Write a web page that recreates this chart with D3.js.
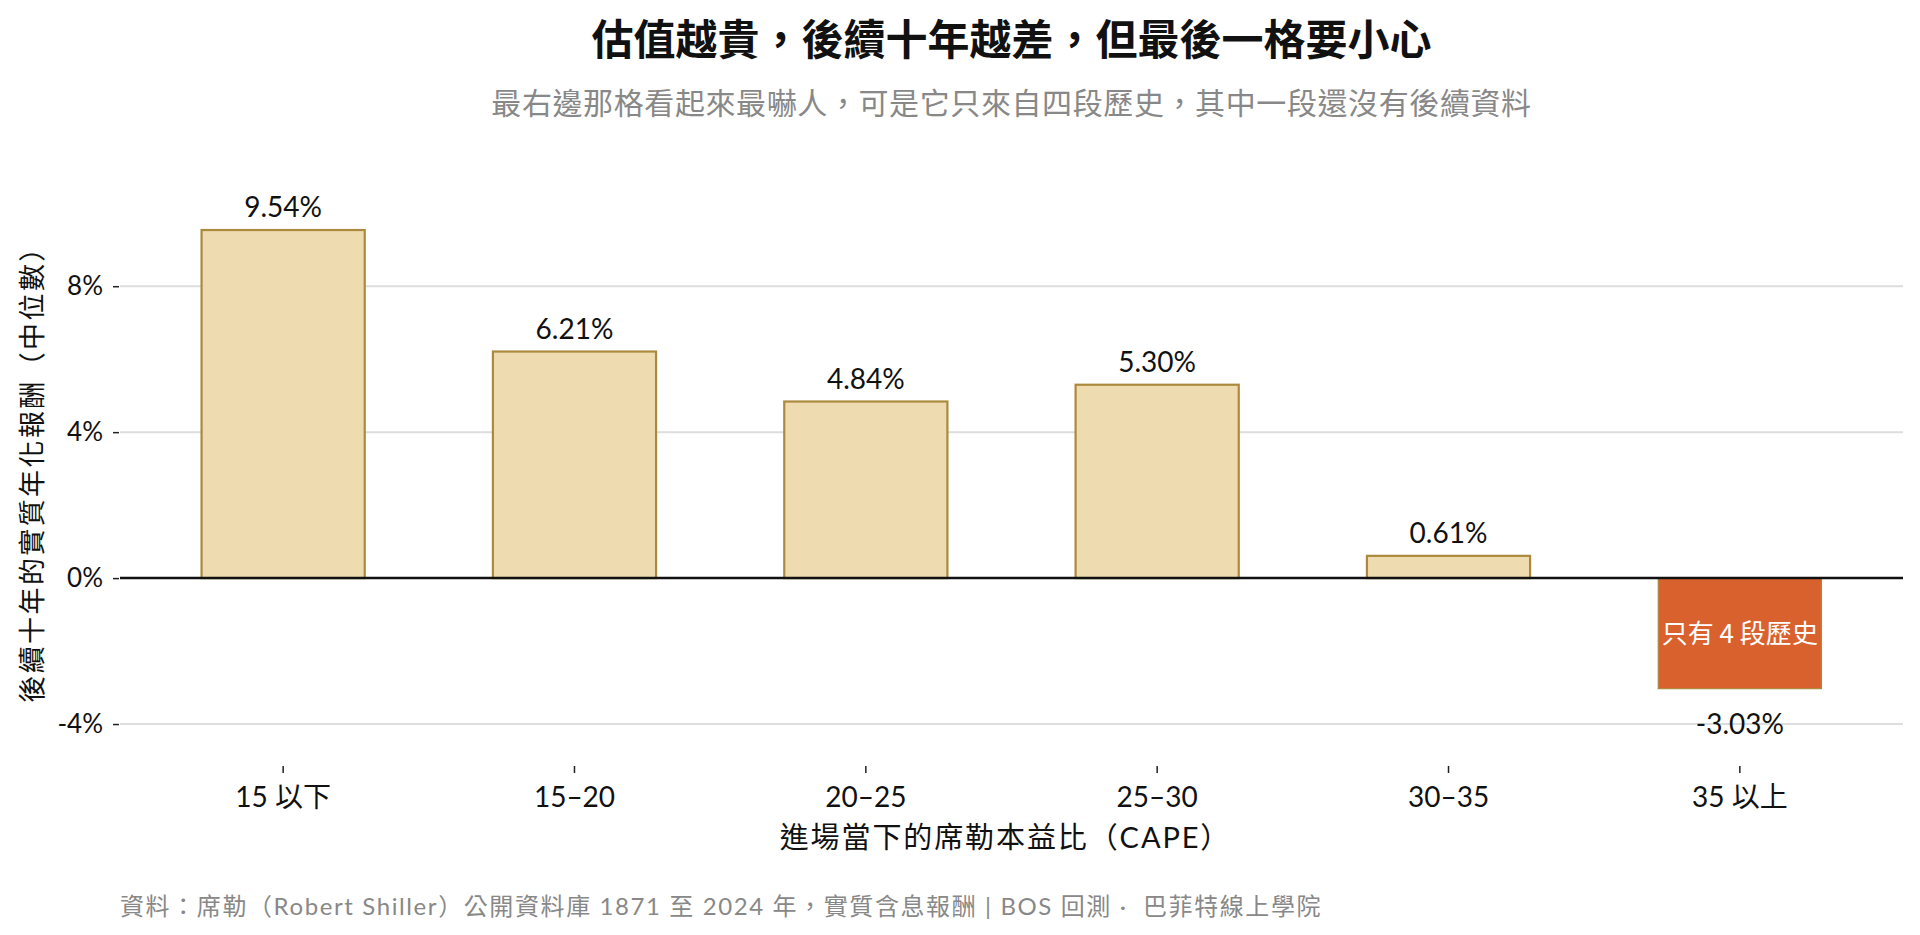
<!DOCTYPE html>
<html>
<head>
<meta charset="utf-8">
<script src="https://cdn.jsdelivr.net/npm/d3@7"></script>
<style>
  html, body { margin: 0; padding: 0; background: #fff; }
  svg { display: block; }
  text { font-family: "Lato", "Noto Sans CJK TC", sans-serif; }
</style>
</head>
<body>
<svg id="chart" width="1920" height="935"></svg>
<script>
// data
var categories = ["15 以下", "15–20", "20–25", "25–30", "30–35", "35 以上"];
var medianReturns = [9.54, 6.21, 4.84, 5.30, 0.61, -3.03];
var yTicks = [-4, 0, 4, 8];

var titleText = "估值越貴，後續十年越差，但最後一格要小心";
var subtitleText = "最右邊那格看起來最嚇人，可是它只來自四段歷史，其中一段還沒有後續資料";
var xTitle = "進場當下的席勒本益比（CAPE）";
var yTitle = "後續十年的實質年化報酬（中位數）";
var noteText = "只有 4 段歷史";
var sourceText = "資料：席勒（Robert Shiller）公開資料庫 1871 至 2024 年，實質含息報酬 | BOS 回測 ·  巴菲特線上學院";

var svg = d3.select("#chart");

var plotL = 120, plotR = 1903, plotT = 195, plotB = 766;
var midX = (plotL + plotR) / 2;

var x = d3.scaleBand()
  .domain(categories)
  .range([plotL, plotR])
  .paddingInner(0.44)
  .paddingOuter(0.28);

var y = d3.scaleLinear()
  .domain([-5.15, 10.5])
  .range([plotB, plotT]);

var data = categories.map(function(c, i){
  return {cat: c, v: medianReturns[i], last: i == categories.length - 1};
});

// gridlines
svg.append("g")
  .selectAll("line")
  .data(yTicks.filter(function(d){ return d != 0; }))
  .enter()
  .append("line")
  .attr("x1", plotL)
  .attr("x2", plotR)
  .attr("y1", function(d){ return y(d); })
  .attr("y2", function(d){ return y(d); })
  .attr("stroke", "#dddddd")
  .attr("stroke-width", 2);

// y axis
var yAxis = svg.append("g")
  .attr("transform", "translate(" + (plotL - 1) + ",0)")
  .call(d3.axisLeft(y).tickValues(yTicks).tickSize(6).tickPadding(10)
    .tickFormat(function(d){ return d + "%"; }));
yAxis.select(".domain").remove();
yAxis.selectAll(".tick line").attr("stroke", "#222").attr("stroke-width", 1.5);
yAxis.selectAll(".tick text")
  .attr("fill", "#111")
  .style("font-size", "26px")
  .style("font-family", "Lato, sans-serif");

// x axis
var xAxis = svg.append("g")
  .attr("transform", "translate(0," + plotB + ")")
  .call(d3.axisBottom(x).tickSize(7).tickPadding(14));
xAxis.select(".domain").remove();
xAxis.selectAll(".tick line").attr("stroke", "#222").attr("stroke-width", 1.5);
xAxis.selectAll(".tick text")
  .attr("fill", "#111")
  .attr("dy", "0.71em")
  .style("font-size", "28px");

// bars
svg.append("g")
  .selectAll("rect")
  .data(data)
  .enter()
  .append("rect")
  .attr("x", function(d){ return x(d.cat); })
  .attr("width", x.bandwidth())
  .attr("y", function(d){ return y(Math.max(0, d.v)); })
  .attr("height", function(d){ return Math.abs(y(d.v) - y(0)); })
  .attr("fill", function(d){ return d.last ? "#d9612e" : "#efdbb0"; })
  .attr("stroke", "#ab8a3e")
  .attr("stroke-width", function(d){ return d.last ? 1.2 : 2.2; });

// zero line
svg.append("line")
  .attr("x1", plotL)
  .attr("x2", plotR)
  .attr("y1", y(0))
  .attr("y2", y(0))
  .attr("stroke", "#111")
  .attr("stroke-width", 2.5);

// value labels
svg.append("g")
  .selectAll("text")
  .data(data)
  .enter()
  .append("text")
  .attr("x", function(d){ return x(d.cat) + x.bandwidth() / 2; })
  .attr("y", function(d){ return d.v >= 0 ? y(d.v) - 13 : y(d.v) + 45; })
  .attr("text-anchor", "middle")
  .attr("fill", "#111")
  .style("font-size", "28px")
  .text(function(d){ return d.v.toFixed(2) + "%"; });

// note inside the last bar
var lastD = data[data.length - 1];
svg.append("text")
  .attr("x", x(lastD.cat) + x.bandwidth() / 2)
  .attr("y", (y(0) + y(lastD.v)) / 2)
  .attr("dy", "0.36em")
  .attr("text-anchor", "middle")
  .attr("fill", "#fff")
  .style("font-size", "26px")
  .style("font-family", "'Noto Sans CJK TC', sans-serif")
  .text(noteText);

// titles
svg.append("text")
  .attr("x", midX).attr("y", 55)
  .attr("text-anchor", "middle")
  .attr("fill", "#111")
  .style("font-size", "42px")
  .style("font-weight", "bold")
  .style("font-family", "'Noto Sans CJK TC', sans-serif")
  .text(titleText);

svg.append("text")
  .attr("x", midX).attr("y", 114)
  .attr("text-anchor", "middle")
  .attr("fill", "#888")
  .style("font-size", "30px")
  .style("font-family", "'Noto Sans CJK TC', sans-serif")
  .style("letter-spacing", "0.6px")
  .text(subtitleText);

svg.append("text")
  .attr("x", midX - 6).attr("y", 848)
  .attr("text-anchor", "middle")
  .attr("fill", "#111")
  .style("font-size", "29px")
  .style("letter-spacing", "1.9px")
  .text(xTitle);

svg.append("text")
  .attr("transform", "translate(42," + ((plotT + plotB) / 2 - 13) + ") rotate(-90)")
  .attr("text-anchor", "middle")
  .attr("fill", "#111")
  .style("font-size", "27px")
  .style("letter-spacing", "2.4px")
  .style("font-family", "'Noto Sans CJK TC', sans-serif")
  .text(yTitle);

svg.append("text")
  .attr("x", plotL).attr("y", 915)
  .attr("fill", "#888")
  .style("font-size", "24px")
  .style("letter-spacing", "1.6px")
  .style("white-space", "pre")
  .text(sourceText);
</script>
</body>
</html>
